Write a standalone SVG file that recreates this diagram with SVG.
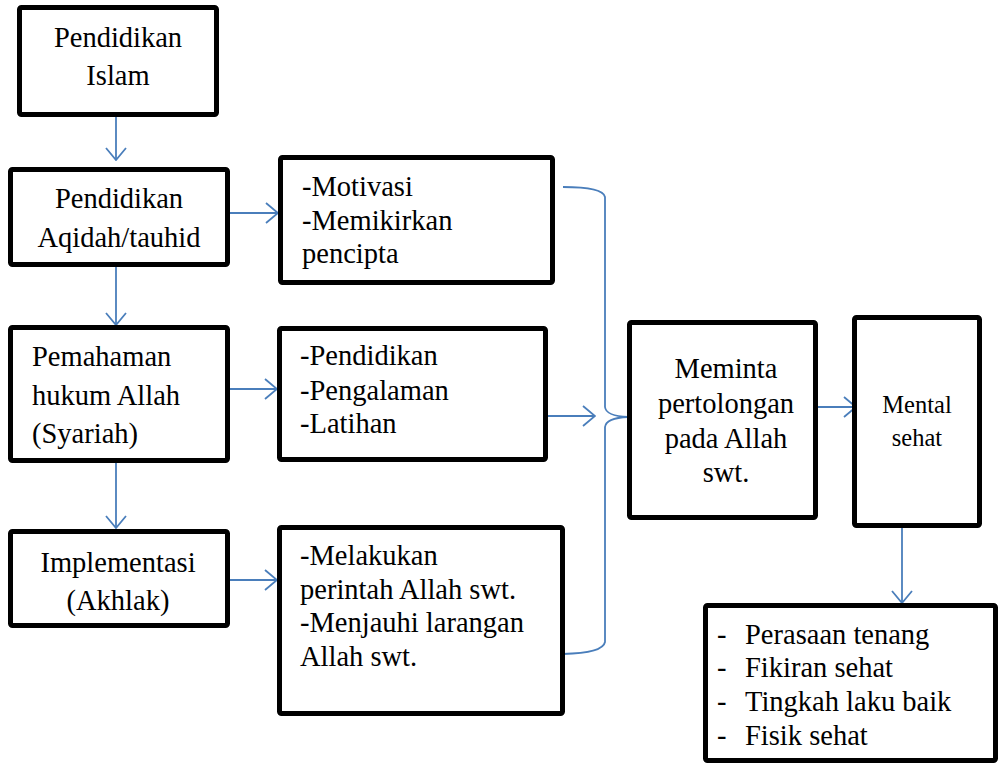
<svg xmlns="http://www.w3.org/2000/svg" width="1000" height="765" viewBox="0 0 1000 765" font-family="Liberation Serif, DejaVu Serif, serif">
<defs>
<marker id="ah" markerWidth="14" markerHeight="22" refX="13" refY="11" orient="auto" markerUnits="userSpaceOnUse">
<path d="M1,1 L13,11 L1,21" fill="none" stroke="#4a7ebb" stroke-width="1.8"/>
</marker>
<style>
.box{fill:#fff;stroke:#000;stroke-width:5;stroke-linejoin:round}
.t{font-size:28.5px;fill:#000}
.c{text-anchor:middle}
.ln{fill:none;stroke:#4a7ebb;stroke-width:1.8}
</style>
</defs>
<rect width="1000" height="765" fill="#fff"/>
<g id="connectors">
<line class="ln" x1="116" y1="117" x2="116" y2="160" marker-end="url(#ah)"/>
<line class="ln" x1="116" y1="267" x2="116" y2="325" marker-end="url(#ah)"/>
<line class="ln" x1="116" y1="463" x2="116" y2="528" marker-end="url(#ah)"/>
<line class="ln" x1="230" y1="213" x2="278" y2="213" marker-end="url(#ah)"/>
<line class="ln" x1="230" y1="389" x2="277" y2="389" marker-end="url(#ah)"/>
<line class="ln" x1="230" y1="580" x2="277" y2="580" marker-end="url(#ah)"/>
<line class="ln" x1="548" y1="416" x2="595" y2="416" marker-end="url(#ah)"/>
<path class="ln" d="M563,187 Q603,187 605,197 L605,407 Q606,416 628,417 L647,417 M628,417 Q606,418 605,427 L605,642 Q603,653 563,654"/>
<line class="ln" x1="818" y1="407" x2="856" y2="407" marker-end="url(#ah)"/>
<line class="ln" x1="902" y1="528" x2="902" y2="603" marker-end="url(#ah)"/>
</g>
<g id="n1"><rect class="box" x="19.5" y="7.5" width="197" height="107" rx="2"/>
<text class="t c" font-family="Liberation Serif" x="118" y="47">Pendidikan</text><text class="t c" x="118" y="85">Islam</text></g>
<g id="n2"><rect class="box" x="10.5" y="169.5" width="217" height="95" rx="2"/>
<text class="t c" x="119" y="208">Pendidikan</text><text class="t c" x="119" y="247">Aqidah/tauhid</text></g>
<g id="n3"><rect class="box" x="10.5" y="327.5" width="217" height="133" rx="2"/>
<text class="t" x="32" y="366">Pemahaman</text><text class="t" x="32" y="405">hukum Allah</text><text class="t" x="32" y="443">(Syariah)</text></g>
<g id="n4"><rect class="box" x="10.5" y="531.5" width="217" height="94" rx="2"/>
<text class="t c" x="118" y="572">Implementasi</text><text class="t c" x="118" y="610">(Akhlak)</text></g>
<g id="n5"><rect class="box" x="280.5" y="157.5" width="272" height="125" rx="2"/>
<text class="t" x="302" y="196">-Motivasi</text><text class="t" x="302" y="230">-Memikirkan</text><text class="t" x="302" y="263">pencipta</text></g>
<g id="n6"><rect class="box" x="279.5" y="328.5" width="266" height="131" rx="2"/>
<text class="t" x="300" y="365">-Pendidikan</text><text class="t" x="300" y="400">-Pengalaman</text><text class="t" x="300" y="433">-Latihan</text></g>
<g id="n7"><rect class="box" x="279.5" y="527.5" width="283" height="186" rx="2"/>
<text class="t" x="300" y="565">-Melakukan</text><text class="t" x="300" y="599">perintah Allah swt.</text><text class="t" x="300" y="632">-Menjauhi larangan</text><text class="t" x="300" y="666">Allah swt.</text></g>
<g id="n8"><rect class="box" x="629.5" y="322.5" width="186" height="195" rx="2"/>
<text class="t c" x="726" y="378">Meminta</text><text class="t c" x="726" y="413">pertolongan</text><text class="t c" x="726" y="448">pada Allah</text><text class="t c" x="726" y="482">swt.</text></g>
<g id="n9"><rect class="box" x="854.5" y="317.5" width="125" height="208" rx="2"/>
<text class="t c" x="917" y="413" style="font-size:24.5px">Mental</text><text class="t c" x="917" y="446" style="font-size:24.5px">sehat</text></g>
<g id="n10"><rect class="box" x="705.5" y="605.5" width="290" height="155" rx="2"/>
<text class="t" x="717" y="644">-</text><text class="t" x="745" y="644">Perasaan tenang</text>
<text class="t" x="717" y="677">-</text><text class="t" x="745" y="677">Fikiran sehat</text>
<text class="t" x="717" y="711">-</text><text class="t" x="745" y="711">Tingkah laku baik</text>
<text class="t" x="717" y="745">-</text><text class="t" x="745" y="745">Fisik sehat</text></g>
</svg>
